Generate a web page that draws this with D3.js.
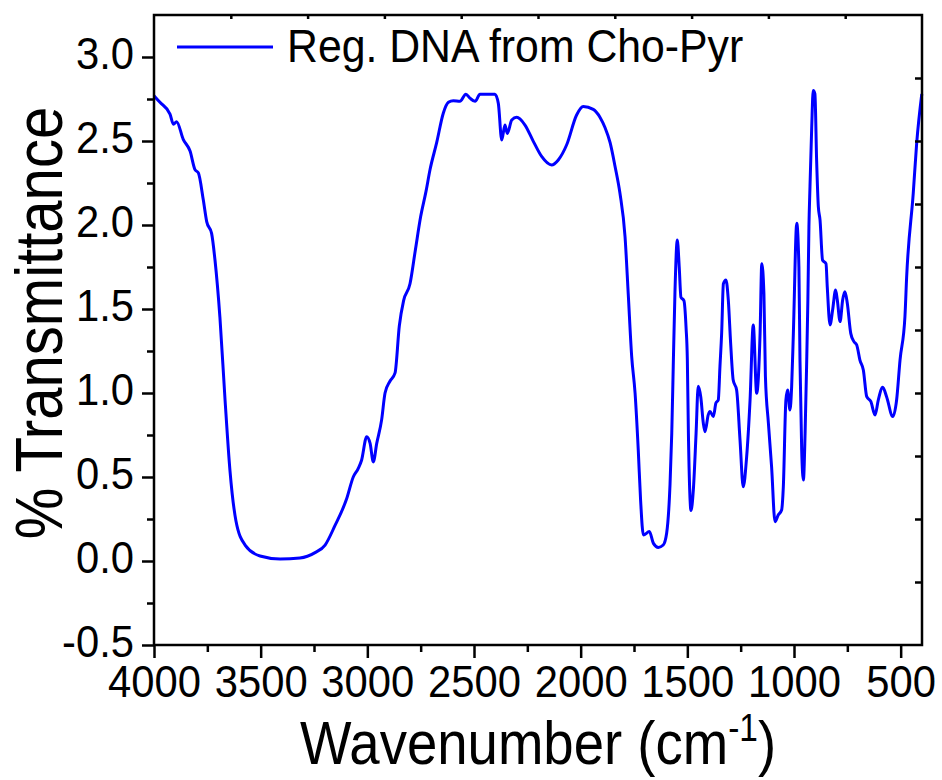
<!DOCTYPE html>
<html>
<head>
<meta charset="utf-8">
<script src="https://cdn.jsdelivr.net/npm/d3@7"></script>
<style>
  body { margin: 0; background: #fff; }
  text { font-family: "Liberation Sans", Arial, sans-serif; fill: #000; }
</style>
</head>
<body>
<div id="chart"></div>
<script>
const width = 942;
const height = 780;
const margin = { top: 15, right: 20, bottom: 135, left: 154 };
const innerW = width - margin.left - margin.right;
const innerH = height - margin.top - margin.bottom;

// spectrum (wavenumber cm-1, % transmittance)
const wavenumber = [
  4000, 3972, 3925, 3909, 3894, 3863, 3831, 3808, 3792, 3769, 3753, 3730, 3714, 3691,
  3667, 3644, 3616, 3573, 3503, 3409, 3316, 3245, 3198, 3152, 3097, 3066, 3043, 3027,
  3003, 2987, 2972, 2956, 2933, 2917, 2894, 2870, 2850, 2830, 2800, 2775, 2750, 2725,
  2706, 2675, 2644, 2620, 2597, 2566, 2538, 2519, 2495, 2472, 2433, 2402, 2386, 2370,
  2355, 2344, 2323, 2300, 2261, 2222, 2183, 2136, 2105, 2066, 2019, 1988, 1941, 1909,
  1886, 1862, 1839, 1816, 1792, 1777, 1761, 1745, 1730, 1719, 1706, 1678, 1659, 1636,
  1613, 1597, 1581, 1573, 1566, 1558, 1547, 1538, 1530, 1516, 1506, 1500, 1495, 1487,
  1483, 1472, 1459, 1449, 1437, 1425, 1417, 1402, 1394, 1378, 1366, 1355, 1347, 1339,
  1331, 1319, 1308, 1297, 1285, 1269, 1253, 1238, 1222, 1206, 1191, 1175, 1159, 1151,
  1141, 1134, 1120, 1105, 1089, 1074, 1058, 1050, 1038, 1030, 1019, 1011, 1003, 987,
  977, 972, 964, 956, 948, 941, 935, 930, 925, 917, 910, 902, 894, 886,
  878, 866, 850, 844, 831, 819, 805, 797, 784, 772, 761, 750, 734, 719,
  706, 691, 675, 659, 640, 620, 605, 584, 566, 537, 519, 503, 480, 472,
  441, 425, 401
];
const transmittance = [
  2.77, 2.73, 2.66, 2.60, 2.615, 2.51, 2.44, 2.33, 2.31, 2.15, 2.02, 1.95, 1.79, 1.45,
  0.96, 0.54, 0.24, 0.095, 0.03, 0.012, 0.018, 0.05, 0.095, 0.21, 0.37, 0.50, 0.55, 0.60,
  0.74, 0.70, 0.59, 0.70, 0.84, 1.00, 1.07, 1.12, 1.40, 1.55, 1.65, 1.85, 2.05, 2.20,
  2.33, 2.49, 2.665, 2.73, 2.74, 2.736, 2.778, 2.755, 2.736, 2.778, 2.778, 2.778, 2.724, 2.506,
  2.595, 2.545, 2.625, 2.641, 2.595, 2.498, 2.408, 2.357, 2.387, 2.476, 2.655, 2.705, 2.688, 2.64,
  2.58, 2.49, 2.35, 2.19, 1.93, 1.59, 1.22, 1.00, 0.66, 0.36, 0.155, 0.175, 0.105, 0.081,
  0.095, 0.165, 0.46, 0.76, 1.16, 1.60, 1.91, 1.75, 1.57, 1.55, 1.39, 1.20, 0.76, 0.36,
  0.30, 0.42, 0.76, 1.04, 0.976, 0.82, 0.77, 0.87, 0.89, 0.86, 0.94, 0.958, 1.16, 1.36,
  1.65, 1.673, 1.554, 1.296, 1.077, 1.018, 0.72, 0.442, 0.62, 0.958, 1.405, 0.998, 1.355, 1.77,
  1.59, 1.10, 0.82, 0.56, 0.234, 0.274, 0.304, 0.442, 0.958, 1.018, 0.899, 1.038, 1.355, 2.01,
  1.75, 1.196, 0.661, 0.482, 0.76, 1.157, 1.55, 1.99, 2.23, 2.58, 2.80, 2.78, 2.387, 2.11,
  2.03, 1.79, 1.77, 1.63, 1.405, 1.494, 1.613, 1.554, 1.425, 1.554, 1.603, 1.533, 1.355, 1.306,
  1.286, 1.196, 1.137, 0.978, 0.95, 0.869, 0.958, 1.034, 0.978, 0.86, 0.958, 1.196, 1.454, 1.69,
  2.19, 2.486, 2.78
];

const xTicks = [4000, 3500, 3000, 2500, 2000, 1500, 1000, 500];
const xMinor = [3750, 3250, 2750, 2250, 1750, 1250, 750];
const yTicks = [-0.5, 0.0, 0.5, 1.0, 1.5, 2.0, 2.5, 3.0];
const yMinor = [-0.25, 0.25, 0.75, 1.25, 1.75, 2.25, 2.75];
const legendLabel = "Reg. DNA from Cho-Pyr";

const data = wavenumber.map((w, i) => ({ w: w, t: transmittance[i] }));

const svg = d3.select("#chart").append("svg")
  .attr("width", width)
  .attr("height", height);

const g = svg.append("g")
  .attr("transform", `translate(${margin.left},${margin.top})`);

const x = d3.scaleLinear().domain([4000, 400]).range([0, innerW]);
const y = d3.scaleLinear().domain([-0.5, 3.25]).range([innerH, 0]);

// the curve
const line = d3.line()
  .x(d => x(d.w))
  .y(d => y(d.t))
  .curve(d3.curveMonotoneX);

g.append("path")
  .datum(data)
  .attr("fill", "none")
  .attr("stroke", "#0000ff")
  .attr("stroke-width", 3)
  .attr("stroke-linejoin", "round")
  .attr("d", line);

// style helper for axes
function styleAxis(sel) {
  sel.select(".domain").remove();
  sel.selectAll("line").attr("stroke", "#000").attr("stroke-width", 2.5);
  sel.attr("font-family", null).attr("font-size", null);
}

// bottom axis
const xAxis = g.append("g")
  .attr("transform", `translate(0,${innerH})`)
  .call(d3.axisBottom(x).tickValues(xTicks).tickSize(13).tickPadding(8).tickFormat(d3.format("d")));
styleAxis(xAxis);
xAxis.selectAll("text")
  .style("font-size", "44px")
  .attr("transform", "scale(0.95,1)");

g.append("g")
  .attr("transform", `translate(0,${innerH})`)
  .call(d3.axisBottom(x).tickValues(xMinor).tickSize(7).tickFormat(""))
  .call(styleAxis);

// left axis (plain hyphen for negatives, like the original)
const yAxis = g.append("g")
  .call(d3.axisLeft(y).tickValues(yTicks).tickSize(12).tickPadding(9)
    .tickFormat(d => (d < 0 ? "-" : "") + Math.abs(d).toFixed(1)));
styleAxis(yAxis);
yAxis.selectAll("text")
  .attr("dy", "0.27em")
  .style("font-size", "44px")
  .attr("transform", "scale(0.95,1)");

g.append("g")
  .call(d3.axisLeft(y).tickValues(yMinor).tickSize(7).tickFormat(""))
  .call(styleAxis);

// top and right: small inward ticks, 10 divisions
const topTicks = d3.range(1, 10).map(i => 4000 - i * 360);
const rightTicks = d3.range(1, 10).map(i => -0.5 + i * 0.375);

g.append("g")
  .call(d3.axisTop(x).tickValues(topTicks).tickSize(-4).tickFormat(""))
  .call(styleAxis);

g.append("g")
  .attr("transform", `translate(${innerW},0)`)
  .call(d3.axisRight(y).tickValues(rightTicks).tickSize(-7).tickFormat(""))
  .call(styleAxis);

// frame
g.append("rect")
  .attr("width", innerW)
  .attr("height", innerH)
  .attr("fill", "none")
  .attr("stroke", "#000")
  .attr("stroke-width", 2.5);

// legend
g.append("line")
  .attr("x1", 177 - margin.left).attr("x2", 273 - margin.left)
  .attr("y1", 47 - margin.top).attr("y2", 47 - margin.top)
  .attr("stroke", "#0000ff")
  .attr("stroke-width", 3);

svg.append("text")
  .attr("transform", "translate(287,62) scale(0.91,1)")
  .style("font-size", "47px")
  .text(legendLabel);

// axis titles
const xt = svg.append("text")
  .attr("text-anchor", "middle")
  .attr("transform", `translate(${margin.left + innerW / 2},764) scale(0.88,1)`)
  .style("font-size", "62px");
xt.append("tspan").text("Wavenumber (cm");
xt.append("tspan").attr("dy", -23).style("font-size", "38px").text("-1");
xt.append("tspan").attr("dy", 23).text(")");

svg.append("text")
  .attr("text-anchor", "middle")
  .attr("transform", "translate(62,323) rotate(-90) scale(0.88,1)")
  .style("font-size", "66px")
  .text("% Transmittance");
</script>
</body>
</html>
